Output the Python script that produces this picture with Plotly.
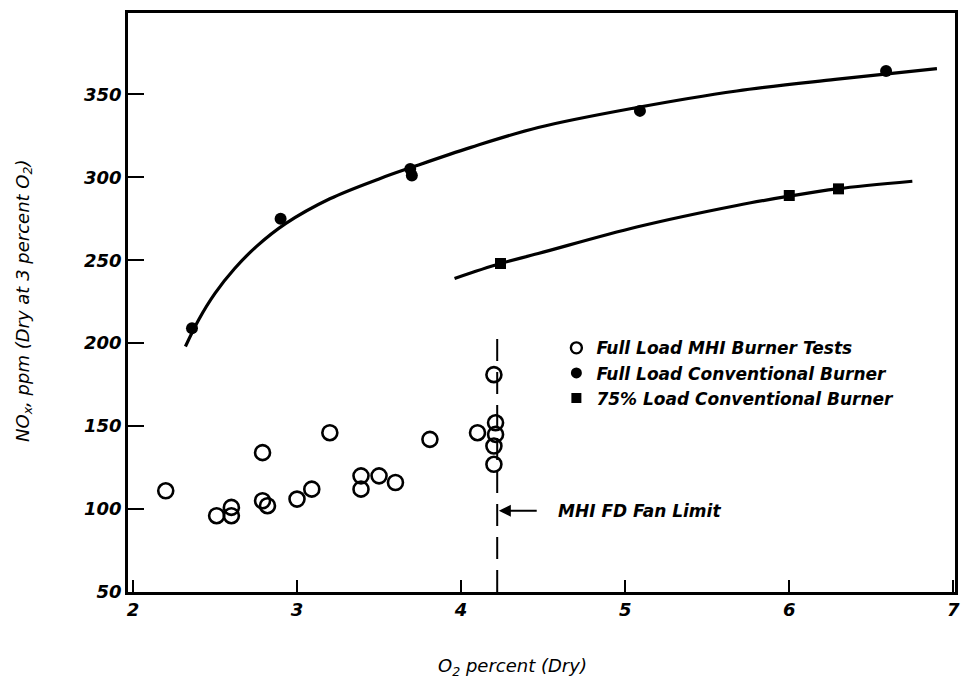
import plotly.graph_objects as go

# ---- data ----
mhi_x = [2.20, 2.51, 2.60, 2.60, 2.79, 2.79, 2.82, 3.00, 3.09, 3.20, 3.39, 3.39,
         3.50, 3.60, 3.81, 4.10, 4.20, 4.21, 4.21, 4.20, 4.20]
mhi_y = [111, 96, 96, 101, 134, 105, 102, 106, 112, 146, 120, 112,
         120, 116, 142, 146, 181, 152, 145, 138, 127]

conv_x = [2.36, 2.90, 3.69, 3.70, 5.09, 6.59]
conv_y = [209, 275, 305, 301, 340, 364]

load75_x = [4.24, 6.00, 6.30]
load75_y = [248, 289, 293]

conv_curve_x = [2.32, 2.40, 2.50, 2.62, 2.75, 2.93, 3.20, 3.50, 3.70, 4.06, 4.47, 5.07, 5.68, 6.28, 6.90]
conv_curve_y = [198, 214, 230, 245, 258, 272, 287, 299, 306, 318, 330, 342, 352, 359, 365.5]

load75_curve_x = [3.96, 4.24, 4.47, 5.07, 5.68, 6.00, 6.29, 6.75]
load75_curve_y = [239, 248, 254, 270, 283, 288.6, 293, 297.6]

fan_limit_x = [4.22, 4.22]
fan_limit_y = [50, 205]

x_ticks = [2, 3, 4, 5, 6, 7]
y_ticks = [50, 100, 150, 200, 250, 300, 350]

names = ["Full Load MHI Burner Tests",
         "Full Load Conventional Burner",
         "75% Load Conventional Burner"]

tick_font = dict(family="DejaVu Sans", size=18, color="black", weight="bold", style="italic")
text_font = dict(family="DejaVu Sans", size=17, color="black", weight="bold", style="italic")

fig = go.Figure()

# curves
fig.add_trace(go.Scatter(x=conv_curve_x, y=conv_curve_y, mode="lines",
                         line=dict(color="black", width=3.2, shape="spline", smoothing=1.0),
                         showlegend=False, hoverinfo="skip"))
fig.add_trace(go.Scatter(x=load75_curve_x, y=load75_curve_y, mode="lines",
                         line=dict(color="black", width=3.2, shape="spline", smoothing=1.0),
                         showlegend=False, hoverinfo="skip"))
# fan limit dashed line
fig.add_trace(go.Scatter(x=fan_limit_x, y=fan_limit_y, mode="lines",
                         line=dict(color="black", width=2, dash="22px,11px"),
                         showlegend=False, hoverinfo="skip"))

# data points
fig.add_trace(go.Scatter(x=mhi_x, y=mhi_y, mode="markers", name=names[0],
                         marker=dict(symbol="circle-open", size=15, color="black",
                                     line=dict(width=2.6, color="black")),
                         showlegend=False))
fig.add_trace(go.Scatter(x=conv_x, y=conv_y, mode="markers", name=names[1],
                         marker=dict(symbol="circle", size=12, color="black"),
                         showlegend=False))
fig.add_trace(go.Scatter(x=load75_x, y=load75_y, mode="markers", name=names[2],
                         marker=dict(symbol="square", size=11, color="black"),
                         showlegend=False))

# legend entries (legend-sized symbols)
fig.add_trace(go.Scatter(x=[None], y=[None], mode="markers", name=names[0],
                         marker=dict(symbol="circle-open", size=11, color="black",
                                     line=dict(width=2.4, color="black"))))
fig.add_trace(go.Scatter(x=[None], y=[None], mode="markers", name=names[1],
                         marker=dict(symbol="circle", size=11, color="black")))
fig.add_trace(go.Scatter(x=[None], y=[None], mode="markers", name=names[2],
                         marker=dict(symbol="square", size=10, color="black")))

axis_common = dict(showline=True, linecolor="black", linewidth=2.5, mirror=True,
                   ticks="inside", tickcolor="black", tickwidth=2,
                   showgrid=False, zeroline=False, tickfont=tick_font)

fig.update_layout(
    width=964, height=684,
    margin=dict(l=128, r=4, t=13, b=92),
    paper_bgcolor="white", plot_bgcolor="white",
    xaxis=dict(range=[1.97, 7.01], tickvals=x_ticks, ticklen=12, **axis_common),
    yaxis=dict(range=[50, 399], tickvals=y_ticks, ticklen=16, **axis_common),
    legend=dict(x=0.518, y=0.452, xanchor="left", yanchor="top",
                font=text_font, bgcolor="rgba(0,0,0,0)", itemwidth=30,
                tracegroupgap=0),
    annotations=[
        dict(x=4.23, y=99, xref="x", yref="y", ax=4.47, ay=99,
             axref="x", ayref="y", text="", showarrow=True,
             arrowhead=2, arrowsize=1.2, arrowwidth=2, arrowcolor="black"),
        dict(x=4.58, y=99, xref="x", yref="y", text="MHI FD Fan Limit",
             showarrow=False, xanchor="left", yanchor="middle", font=text_font),
        dict(x=0.465, y=-0.13, xref="paper", yref="paper",
             text="O<sub>2</sub> percent (Dry)", showarrow=False,
             xanchor="center", yanchor="middle",
             font=dict(family="DejaVu Sans", size=18, color="black", style="italic")),
        dict(x=-0.126, y=0.504, xref="paper", yref="paper", textangle=-90,
             text="NO<sub>x</sub>, ppm (Dry at 3 percent O<sub>2</sub>)",
             showarrow=False, xanchor="center", yanchor="middle",
             font=dict(family="DejaVu Sans", size=18, color="black", style="italic")),
    ],
)

fig.write_html("out.html")
